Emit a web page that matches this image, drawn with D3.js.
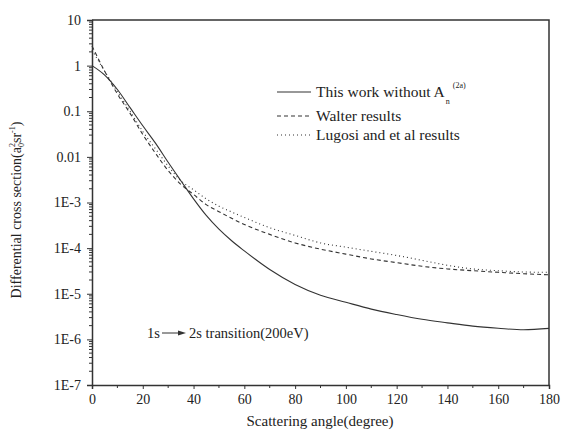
<!DOCTYPE html>
<html>
<head>
<meta charset="utf-8">
<script src="https://cdn.jsdelivr.net/npm/d3@7"></script>
<style>
  body { margin: 0; background: #fff; }
  text { font-family: "Liberation Serif", "Times New Roman", serif; fill: #222; }
</style>
</head>
<body>
<svg></svg>
<script>
let angles = [0, 5, 10, 15, 20, 25, 30, 35, 40, 45, 50, 55, 60, 70, 80, 90, 100, 110, 120, 130, 140, 150, 160, 170, 180]

let thisWork = [1.0, 0.62, 0.3, 0.12, 0.048, 0.02, 7.6e-3, 3.0e-3, 1.2e-3, 5.2e-4, 2.6e-4, 1.45e-4, 8.7e-5, 3.4e-5, 1.6e-5, 9.3e-6, 6.5e-6, 4.6e-6, 3.5e-6, 2.75e-6, 2.3e-6, 1.95e-6, 1.75e-6, 1.62e-6, 1.74e-6]
let walter = [2.7, 0.75, 0.24, 0.09, 0.031, 0.012, 5.0e-3, 2.5e-3, 1.5e-3, 9.0e-4, 6.3e-4, 4.5e-4, 3.3e-4, 2.0e-4, 1.3e-4, 9.5e-5, 7.4e-5, 5.8e-5, 4.8e-5, 4.0e-5, 3.5e-5, 3.2e-5, 2.95e-5, 2.75e-5, 2.6e-5]
let lugosi = [2.2, 0.75, 0.27, 0.1, 0.036, 0.015, 6.3e-3, 3.0e-3, 1.9e-3, 1.2e-3, 8.3e-4, 6.2e-4, 4.7e-4, 2.8e-4, 1.9e-4, 1.3e-4, 1.05e-4, 8.5e-5, 6.9e-5, 5.4e-5, 4.2e-5, 3.5e-5, 3.2e-5, 3.0e-5, 2.95e-5]

let xTicks = [0, 20, 40, 60, 80, 100, 120, 140, 160, 180]
let yTicks = [10, 1, 0.1, 0.01, 1e-3, 1e-4, 1e-5, 1e-6, 1e-7]
let yTickLabels = ['10', '1', '0.1', '0.01', '1E-3', '1E-4', '1E-5', '1E-6', '1E-7']

let width = 562
let height = 437
let padLeft = 92, padRight = 549, padTop = 20, padBottom = 385
let ink = '#333'
let serif = '"Liberation Serif", "Times New Roman", serif'

let svg = d3.select('svg').attr('width', width).attr('height', height)

let xScale = d3.scaleLinear().domain([0, 180]).range([padLeft, padRight])
let yScale = d3.scaleLog().domain([1e-7, 10]).range([padBottom, padTop])

// frame: top and right border
svg.append('path')
   .attr('d', `M${padLeft},${padTop}H${padRight}V${padBottom}`)
   .attr('fill', 'none').attr('stroke', ink).attr('stroke-width', 1.5)

// minor ticks
let yMinor = []
for (let e = -7; e < 1; e++) {
    for (let m = 2; m <= 9; m++) yMinor.push(m * Math.pow(10, e))
}
let xMinor = d3.range(10, 180, 20)

let xAxis = d3.axisBottom(xScale).tickValues(xTicks).tickSize(4).tickPadding(5).tickFormat(d3.format('d'))
let yAxis = d3.axisLeft(yScale).tickValues(yTicks).tickSize(5).tickPadding(6)
              .tickFormat((d, i) => yTickLabels[i])

let gx = svg.append('g').attr('transform', `translate(0,${padBottom})`).call(xAxis)
let gy = svg.append('g').attr('transform', `translate(${padLeft},0)`).call(yAxis)

gx.append('g').selectAll('line').data(xMinor).enter().append('line')
  .attr('x1', d => xScale(d)).attr('x2', d => xScale(d)).attr('y1', 0).attr('y2', 3)
  .attr('stroke', ink)
gy.append('g').selectAll('line').data(yMinor).enter().append('line')
  .attr('y1', d => yScale(d)).attr('y2', d => yScale(d)).attr('x1', 0).attr('x2', -3)
  .attr('stroke', ink)

;[gx, gy].forEach(g => {
    g.attr('font-family', serif)
    g.select('.domain').attr('stroke', ink).attr('stroke-width', 1.5)
    g.selectAll('.tick line').attr('stroke', ink)
    g.selectAll('.tick text').style('font-family', serif).style('font-size', '14px').attr('fill', '#222')
})

// curves
let line = d3.line()
             .x((d, i) => xScale(angles[i]))
             .y(d => yScale(d))
             .curve(d3.curveMonotoneX)

let series = [
    { values: thisWork, dash: null, label: 'This work without A' },
    { values: walter, dash: '4,3', label: 'Walter results' },
    { values: lugosi, dash: '1,3', label: 'Lugosi and et al results' }
]

series.forEach(s => {
    svg.append('path')
       .attr('d', line(s.values))
       .attr('fill', 'none')
       .attr('stroke', ink)
       .attr('stroke-width', 1.1)
       .attr('stroke-dasharray', s.dash)
})

// legend
let legendY = [92, 116, 135]
let legendTexts = []
series.forEach((s, i) => {
    svg.append('line')
       .attr('x1', 277).attr('x2', 311)
       .attr('y1', legendY[i]).attr('y2', legendY[i])
       .attr('stroke', ink).attr('stroke-width', 1.1)
       .attr('stroke-dasharray', s.dash)
    legendTexts.push(svg.append('text')
       .attr('x', 316).attr('y', legendY[i] + 5)
       .style('font-size', '15.5px')
       .text(s.label))
})
let endA = 316 + legendTexts[0].node().getComputedTextLength()
svg.append('text').attr('x', endA + 1).attr('y', 104).style('font-size', '8px').text('n')
svg.append('text').attr('x', endA + 8).attr('y', 88).style('font-size', '8px').text('(2a)')

// annotation
svg.append('text').attr('x', 147).attr('y', 338).style('font-size', '14.5px').text('1s')
svg.append('line').attr('x1', 162).attr('x2', 180).attr('y1', 333).attr('y2', 333)
   .attr('stroke', ink).attr('stroke-width', 1)
svg.append('path').attr('d', 'M186,333 L178,330.5 L178,335.5 Z').attr('fill', ink)
svg.append('text').attr('x', 189).attr('y', 338).style('font-size', '14.5px').text('2s transition(200eV)')

// axis titles
svg.append('text')
   .attr('x', 320).attr('y', 426)
   .attr('text-anchor', 'middle')
   .style('font-size', '15px')
   .text('Scattering angle(degree)')

let yt = svg.append('text')
   .attr('transform', 'translate(21,210) rotate(-90)')
   .attr('text-anchor', 'middle')
   .style('font-size', '14px')
yt.append('tspan').text('Differential cross section(a')
yt.append('tspan').attr('dy', 3).style('font-size', '8px').text('0')
yt.append('tspan').attr('dy', -9).attr('dx', -4).style('font-size', '8px').text('2')
yt.append('tspan').attr('dy', 6).text('sr')
yt.append('tspan').attr('dy', -6).style('font-size', '8px').text('-1')
yt.append('tspan').attr('dy', 6).text(')')
</script>
</body>
</html>
